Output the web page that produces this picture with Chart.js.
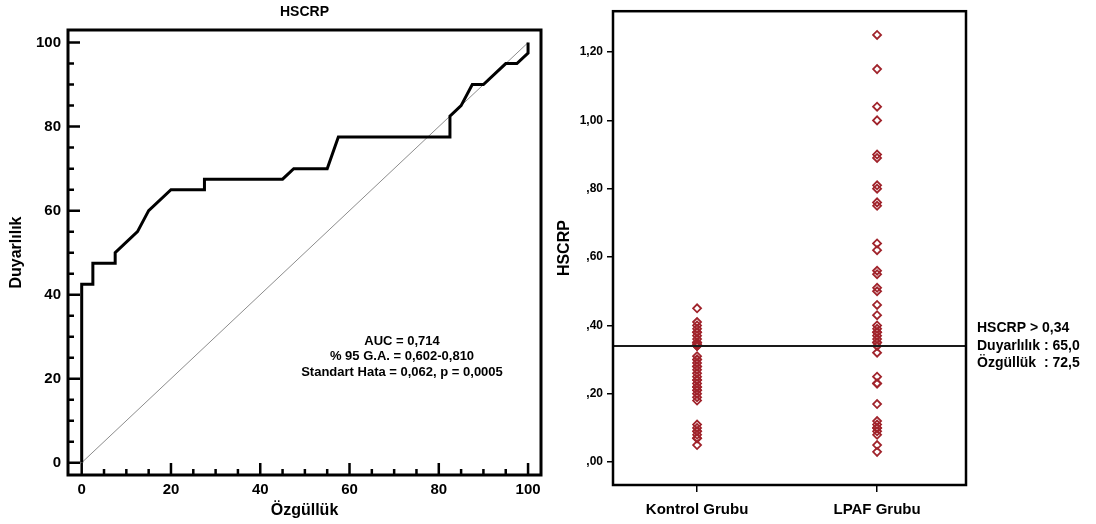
<!DOCTYPE html>
<html>
<head>
<meta charset="utf-8">
<script src="https://cdn.jsdelivr.net/npm/chart.js@4.4.0/dist/chart.umd.min.js"></script>
<style>
  body { margin: 0; background: #fff; }
  #rocChart { position: absolute; left: 0; top: 0; }
  #dotChart { position: absolute; left: 552px; top: 0; }
</style>
</head>
<body>
<canvas id="rocChart" width="552" height="524"></canvas>
<canvas id="dotChart" width="544" height="524"></canvas>
<script>
// ROC curve (left)
const rocSpec = [0, 0, 2.5, 2.5, 7.5, 7.5, 12.5, 15, 20, 27.5, 27.5, 45, 47.5, 55, 57.5, 82.5, 82.5, 85, 87.5, 90, 95, 97.5, 100, 100];
const rocSens = [0, 42.5, 42.5, 47.5, 47.5, 50, 55, 60, 65, 65, 67.5, 67.5, 70, 70, 77.5, 77.5, 82.5, 85, 90, 90, 95, 95, 97.5, 100];
const refSpec = [0, 100];
const refSens = [0, 100];
const rocTicks = [0, 20, 40, 60, 80, 100];
const rocMinorTicks = [0, 5, 10, 15, 20, 25, 30, 35, 40, 45, 50, 55, 60, 65, 70, 75, 80, 85, 90, 95, 100];
const rocTitle = 'HSCRP';
const rocStats = ['AUC = 0,714', '% 95 G.A. = 0,602-0,810', 'Standart Hata = 0,062, p = 0,0005'];

// dot plot (right)
const groups = ['Kontrol Grubu', 'LPAF Grubu'];
const kontrolValues = [0.45, 0.41, 0.40, 0.39, 0.38, 0.38, 0.37, 0.36, 0.35, 0.35, 0.345,
  0.34, 0.34, 0.31, 0.30, 0.30, 0.29, 0.28, 0.28, 0.27, 0.26, 0.25, 0.24, 0.24, 0.23,
  0.22, 0.22, 0.21, 0.21, 0.20, 0.19, 0.18, 0.11, 0.10, 0.09, 0.09, 0.08, 0.07, 0.07, 0.05];
const lpafValues = [1.25, 1.15, 1.04, 1.00, 0.90, 0.89, 0.81, 0.80, 0.76, 0.75, 0.64, 0.62,
  0.56, 0.55, 0.51, 0.50, 0.46, 0.43, 0.40, 0.39, 0.38, 0.38, 0.37, 0.36, 0.35, 0.35,
  0.34, 0.32, 0.25, 0.23, 0.23, 0.17, 0.12, 0.11, 0.10, 0.10, 0.09, 0.08, 0.05, 0.03];
const hscrpTicks = [0, 0.2, 0.4, 0.6, 0.8, 1.0, 1.2];
const hscrpTickLabels = [',00', ',20', ',40', ',60', ',80', '1,00', '1,20'];
const cutoff = 0.34;
const cutoffNotes = ['HSCRP > 0,34', 'Duyarlılık : 65,0', 'Özgüllük  : 72,5'];

const FONT = '"Liberation Sans", Arial, sans-serif';
Chart.defaults.color = '#000';
Chart.defaults.font.family = FONT;

const rocFrame = {
  id: 'rocFrame',
  afterDraw(chart) {
    const { ctx, chartArea: a, scales: { x, y } } = chart;
    ctx.save();
    ctx.strokeStyle = '#000';
    ctx.lineWidth = 2.5;
    ctx.beginPath();
    rocMinorTicks.forEach(v => {
      const len = rocTicks.includes(v) ? 12 : 6;
      const px = x.getPixelForValue(v);
      ctx.moveTo(px, a.bottom);
      ctx.lineTo(px, a.bottom - len);
      const py = y.getPixelForValue(v);
      ctx.moveTo(a.left, py);
      ctx.lineTo(a.left + len, py);
    });
    ctx.stroke();
    ctx.lineWidth = 3;
    ctx.strokeRect(a.left, a.top, a.right - a.left, a.bottom - a.top);

    ctx.fillStyle = '#000';
    ctx.textAlign = 'center';
    ctx.textBaseline = 'middle';
    ctx.font = 'bold 14px ' + FONT;
    ctx.fillText(rocTitle, (a.left + a.right) / 2, 12);
    ctx.font = 'bold 13px ' + FONT;
    rocStats.forEach((t, i) => ctx.fillText(t, 402, 341 + i * 15.5));
    ctx.restore();
  }
};

new Chart(document.getElementById('rocChart'), {
  type: 'line',
  data: {
    datasets: [{
      data: rocSpec.map((v, i) => ({ x: v, y: rocSens[i] })),
      borderColor: '#000',
      borderWidth: 3,
      pointRadius: 0,
      tension: 0,
      fill: false
    }, {
      data: refSpec.map((v, i) => ({ x: v, y: refSens[i] })),
      borderColor: '#8c8c8c',
      borderWidth: 1,
      pointRadius: 0,
      fill: false
    }]
  },
  options: {
    responsive: false,
    animation: false,
    layout: { padding: { top: 30, right: 11 } },
    plugins: { legend: { display: false }, tooltip: { enabled: false } },
    scales: {
      x: {
        type: 'linear',
        min: -3.07,
        max: 102.9,
        afterBuildTicks: s => { s.ticks = rocTicks.map(v => ({ value: v })); },
        afterFit: s => { s.height = 49; },
        grid: { display: false, drawTicks: false },
        border: { display: false },
        ticks: { padding: 6, maxRotation: 0, autoSkip: false, font: { size: 15, weight: 'bold' } },
        title: { display: true, text: 'Özgüllük', font: { size: 16, weight: 'bold' }, padding: { top: 0, bottom: 3.4 } }
      },
      y: {
        min: -2.93,
        max: 103.0,
        afterBuildTicks: s => { s.ticks = rocTicks.map(v => ({ value: v })); },
        afterFit: s => { s.width = 68; },
        grid: { display: false, drawTicks: false },
        border: { display: false },
        ticks: { padding: 7, font: { size: 15, weight: 'bold' } },
        title: { display: true, text: 'Duyarlılık', font: { size: 16, weight: 'bold' }, padding: { top: 7.4, bottom: 0 } }
      }
    }
  },
  plugins: [rocFrame]
});

const dotFrame = {
  id: 'dotFrame',
  afterDraw(chart) {
    const { ctx, chartArea: a, scales: { y } } = chart;
    ctx.save();
    ctx.strokeStyle = '#1a1a1a';
    ctx.lineWidth = 2;
    const cy = y.getPixelForValue(cutoff);
    ctx.beginPath();
    ctx.moveTo(a.left, cy);
    ctx.lineTo(a.right, cy);
    ctx.stroke();
    ctx.strokeStyle = '#000';
    ctx.lineWidth = 2.5;
    ctx.strokeRect(a.left, a.top, a.right - a.left, a.bottom - a.top);

    ctx.fillStyle = '#000';
    ctx.textAlign = 'left';
    ctx.textBaseline = 'middle';
    ctx.font = 'bold 14px ' + FONT;
    cutoffNotes.forEach((t, i) => ctx.fillText(t, a.right + 11, cy - 17.5 + i * 17.5));
    ctx.restore();
  }
};

const pointStyle = {
  pointStyle: 'rectRot',
  pointRadius: 4,
  borderWidth: 1.8,
  borderColor: '#a0232b',
  backgroundColor: 'rgba(255,255,255,0)'
};

new Chart(document.getElementById('dotChart'), {
  type: 'scatter',
  data: {
    datasets: [
      Object.assign({ data: kontrolValues.map(v => ({ x: 1, y: v })) }, pointStyle),
      Object.assign({ data: lpafValues.map(v => ({ x: 2, y: v })) }, pointStyle)
    ]
  },
  options: {
    responsive: false,
    animation: false,
    layout: { padding: { top: 9, right: 130 } },
    plugins: { legend: { display: false }, tooltip: { enabled: false } },
    scales: {
      x: {
        type: 'linear',
        min: 0.533,
        max: 2.494,
        afterBuildTicks: s => { s.ticks = groups.map((g, i) => ({ value: i + 1 })); },
        afterFit: s => { s.height = 39; },
        grid: { display: true, drawOnChartArea: false, drawTicks: true, tickLength: 7, color: '#000', lineWidth: 1.5 },
        border: { display: false },
        ticks: {
          padding: 9, maxRotation: 0, autoSkip: false,
          font: { size: 15, weight: 'bold' },
          callback: (v, i) => groups[i]
        }
      },
      y: {
        min: -0.067,
        max: 1.3195,
        afterBuildTicks: s => { s.ticks = hscrpTicks.map(v => ({ value: v })); },
        afterFit: s => { s.width = 61; },
        grid: { display: true, drawOnChartArea: false, drawTicks: true, tickLength: 6, color: '#000', lineWidth: 1.5 },
        border: { display: false },
        ticks: {
          padding: 4,
          font: { size: 12, weight: 'bold' },
          callback: (v, i) => hscrpTickLabels[i]
        },
        title: { display: true, text: 'HSCRP', font: { size: 16, weight: 'bold' }, padding: { top: 3, bottom: 0 } }
      }
    }
  },
  plugins: [dotFrame]
});
</script>
</body>
</html>
